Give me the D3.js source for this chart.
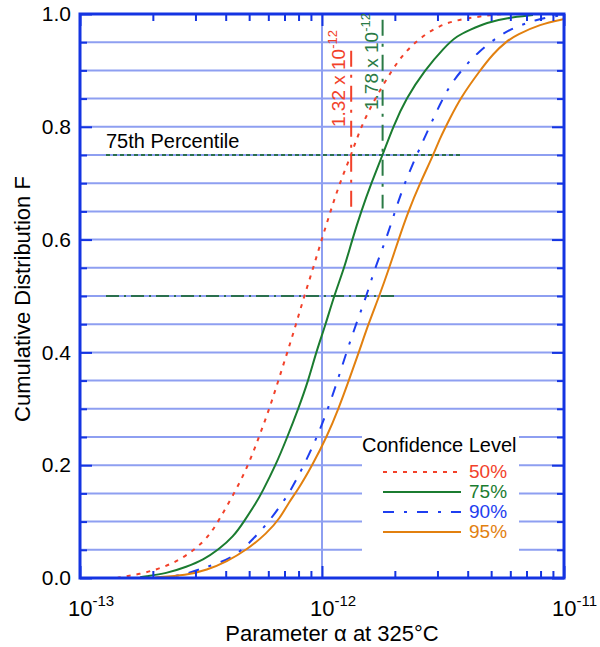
<!DOCTYPE html>
<html>
<head>
<meta charset="utf-8">
<script src="https://cdn.jsdelivr.net/npm/d3@7"></script>
<style>
  html, body { margin: 0; padding: 0; background: #fff; }
  svg { display: block; font-family: "Liberation Sans", Arial, Helvetica, sans-serif; }
</style>
</head>
<body>
<svg id="chart" width="600" height="647"></svg>
<script>
// Cumulative distribution of the parameter alpha at 325 °C for four confidence levels.
// Each entry: [alpha, F]
const conf50 = [
  [1.42e-13, 0.0], [1.46e-13, 0.001], [1.77e-13, 0.007], [2.11e-13, 0.016], [2.51e-13, 0.029],
  [2.90e-13, 0.047], [3.23e-13, 0.064], [3.50e-13, 0.082], [3.72e-13, 0.10], [4.34e-13, 0.15],
  [4.96e-13, 0.20], [5.49e-13, 0.25], [6.06e-13, 0.30], [6.60e-13, 0.35], [7.19e-13, 0.40],
  [7.81e-13, 0.45], [8.45e-13, 0.50], [9.20e-13, 0.55], [9.97e-13, 0.60], [1.084e-12, 0.65],
  [1.183e-12, 0.70], [1.32e-12, 0.75], [1.447e-12, 0.80], [1.656e-12, 0.85], [1.941e-12, 0.90],
  [2.203e-12, 0.933], [2.582e-12, 0.96], [3.073e-12, 0.98], [3.602e-12, 0.989], [4.220e-12, 0.994],
  [4.945e-12, 0.998], [5.705e-12, 1.0]
];
const conf75 = [
  [1.77e-13, 0.001], [1.83e-13, 0.0024], [2.28e-13, 0.008], [2.76e-13, 0.02], [3.23e-13, 0.032],
  [3.73e-13, 0.05], [4.30e-13, 0.073], [4.76e-13, 0.10], [5.37e-13, 0.135], [5.62e-13, 0.15],
  [6.44e-13, 0.20], [7.19e-13, 0.25], [7.98e-13, 0.30], [8.78e-13, 0.35], [9.45e-13, 0.40],
  [1.036e-12, 0.45], [1.121e-12, 0.50], [1.237e-12, 0.55], [1.333e-12, 0.60], [1.452e-12, 0.65],
  [1.598e-12, 0.70], [1.78e-12, 0.75], [1.966e-12, 0.80], [2.224e-12, 0.85], [2.652e-12, 0.90],
  [3.223e-12, 0.942], [3.602e-12, 0.961], [4.089e-12, 0.972], [4.792e-12, 0.985], [5.797e-12, 0.993],
  [7.445e-12, 0.998]
];
const conf90 = [
  [2.04e-13, 0.0], [2.14e-13, 0.001], [2.67e-13, 0.005], [3.13e-13, 0.016], [3.73e-13, 0.026],
  [4.44e-13, 0.041], [5.20e-13, 0.069], [6.04e-13, 0.10], [6.82e-13, 0.132], [7.31e-13, 0.15],
  [8.43e-13, 0.20], [9.54e-13, 0.25], [1.059e-12, 0.30], [1.159e-12, 0.35], [1.262e-12, 0.40],
  [1.382e-12, 0.45], [1.527e-12, 0.50], [1.656e-12, 0.55], [1.839e-12, 0.60], [2.003e-12, 0.65],
  [2.193e-12, 0.70], [2.462e-12, 0.75], [2.781e-12, 0.80], [3.073e-12, 0.84], [3.380e-12, 0.874],
  [3.836e-12, 0.904], [4.425e-12, 0.933], [5.439e-12, 0.963], [6.377e-12, 0.978], [7.713e-12, 0.99],
  [9.006e-12, 0.996], [1.0e-11, 0.998]
];
const conf95 = [
  [2.04e-13, 0.001], [2.76e-13, 0.005], [3.34e-13, 0.014], [4.04e-13, 0.029], [4.89e-13, 0.05],
  [5.91e-13, 0.079], [6.71e-13, 0.106], [7.31e-13, 0.135], [7.92e-13, 0.155], [9.12e-13, 0.20],
  [1.046e-12, 0.25], [1.17e-12, 0.30], [1.29e-12, 0.35], [1.42e-12, 0.40], [1.553e-12, 0.45],
  [1.725e-12, 0.50], [1.897e-12, 0.55], [2.071e-12, 0.60], [2.273e-12, 0.65], [2.541e-12, 0.70],
  [2.884e-12, 0.75], [3.073e-12, 0.78], [3.380e-12, 0.815], [3.717e-12, 0.85], [4.498e-12, 0.90],
  [5.105e-12, 0.93], [5.797e-12, 0.952], [6.377e-12, 0.963], [7.958e-12, 0.982], [1.0e-11, 0.991]
];

const seriesNames  = ["50%", "75%", "90%", "95%"];
const seriesColors = ["#f2412a", "#1b7c30", "#1e3ef0", "#e2800f"];
const seriesDash   = ["4,6", null, "11,10,3,10", null];

// 75th-percentile markers: alpha values for the 50% and 75% curves
const p75Values = [1.32e-12, 1.78e-12];
const p75Labels = ["1.32 x 10", "1.78 x 10"];
const p75Exp = "-12";

const yTickLabels = ["0.0", "0.2", "0.4", "0.6", "0.8", "1.0"];
const yTickValues = [0, 0.2, 0.4, 0.6, 0.8, 1.0];
const xDecades = [-13, -12, -11];

const svg = d3.select("#chart");
const L = 80, R = 564, T = 14, B = 578;
const x = d3.scaleLog().domain([1e-13, 1e-11]).range([L, R]);
const y = d3.scaleLinear().domain([0, 1]).range([B, T]);

const axisBlue = "#1434e2";
const gridBlue = "#8e9ff1";
const refGreen = "#2a6f4e";

svg.append("defs").append("clipPath").attr("id", "plot")
  .append("rect").attr("x", L).attr("y", T).attr("width", R - L).attr("height", B - T);

// horizontal grid every 0.05
const gridY = d3.range(1, 20).map(i => i * 0.05);
svg.append("g").selectAll("line").data(gridY).join("line")
  .attr("x1", L).attr("x2", R)
  .attr("y1", d => y(d)).attr("y2", d => y(d))
  .attr("stroke", gridBlue).attr("stroke-width", 2);
// vertical grid at 1e-12
svg.append("line")
  .attr("x1", x(1e-12)).attr("x2", x(1e-12)).attr("y1", T).attr("y2", B)
  .attr("stroke", gridBlue).attr("stroke-width", 2);

// legend background interrupts the grid
svg.append("rect").attr("x", 362).attr("y", 431).attr("width", 157).attr("height", 124).attr("fill", "#fff");

// reference lines: 75th percentile (dashed) and median (dash-dot)
svg.append("line")
  .attr("x1", 106).attr("x2", 460).attr("y1", y(0.75)).attr("y2", y(0.75))
  .attr("stroke", refGreen).attr("stroke-width", 2).attr("stroke-dasharray", "4,3");
svg.append("line")
  .attr("x1", 106).attr("x2", 395).attr("y1", y(0.5)).attr("y2", y(0.5))
  .attr("stroke", refGreen).attr("stroke-width", 2).attr("stroke-dasharray", "13,5,2,5");

// vertical markers at the 75th percentile values
const vColors = [seriesColors[0], "#2a7a45"];
const vTop = [0.935, 0.99];
p75Values.forEach((v, i) => {
  svg.append("line")
    .attr("x1", x(v)).attr("x2", x(v)).attr("y1", y(vTop[i])).attr("y2", y(0.655))
    .attr("stroke", vColors[i]).attr("stroke-width", 2).attr("stroke-dasharray", "16,8,3,8");
});

// curves (smoothed through the read points)
const line = d3.line().x(d => x(d[0])).y(d => y(d[1])).curve(d3.curveBasis);
const allSeries = [conf50, conf75, conf90, conf95];
const gCurves = svg.append("g").attr("clip-path", "url(#plot)");
allSeries.forEach((s, i) => {
  gCurves.append("path").datum(s)
    .attr("d", line)
    .attr("fill", "none")
    .attr("stroke", seriesColors[i])
    .attr("stroke-width", 2)
    .attr("stroke-dasharray", seriesDash[i]);
});

// axes: minor ticks every 0.05 / every integer multiple, major at 0.2 / decades
const minorY = gridY.filter(v => Math.abs(v * 5 - Math.round(v * 5)) > 1e-6);
const majorY = yTickValues;
const minorX = [];
[-13, -12].forEach(e => { for (let k = 2; k <= 9; k++) minorX.push(k * Math.pow(10, e)); });
const majorX = xDecades.map(e => Math.pow(10, e));

function styleAxis(g) {
  g.select(".domain").remove();
  g.selectAll(".tick line").attr("stroke", axisBlue).attr("stroke-width", 2);
}
svg.append("g").attr("transform", `translate(${L},0)`)
  .call(d3.axisLeft(y).tickValues(minorY).tickSize(-7).tickFormat("")).call(styleAxis);
svg.append("g").attr("transform", `translate(${L},0)`)
  .call(d3.axisLeft(y).tickValues(majorY).tickSize(-12).tickPadding(9)
    .tickFormat((d, i) => yTickLabels[i])).call(styleAxis)
  .call(g => g.selectAll("text").attr("font-size", 21).attr("fill", "#000")
    .attr("font-family", "Liberation Sans, Arial, sans-serif"));
svg.append("g").attr("transform", `translate(${R},0)`)
  .call(d3.axisRight(y).tickValues(minorY).tickSize(-7).tickFormat("")).call(styleAxis);
svg.append("g").attr("transform", `translate(${R},0)`)
  .call(d3.axisRight(y).tickValues(majorY).tickSize(-12).tickFormat("")).call(styleAxis);
svg.append("g").attr("transform", `translate(0,${B})`)
  .call(d3.axisBottom(x).tickValues(minorX).tickSize(-7).tickFormat("")).call(styleAxis);
svg.append("g").attr("transform", `translate(0,${B})`)
  .call(d3.axisBottom(x).tickValues(majorX).tickSize(-12).tickFormat("")).call(styleAxis);
svg.append("g").attr("transform", `translate(0,${T})`)
  .call(d3.axisTop(x).tickValues(minorX).tickSize(-7).tickFormat("")).call(styleAxis);
svg.append("g").attr("transform", `translate(0,${T})`)
  .call(d3.axisTop(x).tickValues(majorX).tickSize(-12).tickFormat("")).call(styleAxis);

// frame
svg.append("rect").attr("x", L).attr("y", T).attr("width", R - L).attr("height", B - T)
  .attr("fill", "none").attr("stroke", axisBlue).attr("stroke-width", 3);

// x tick labels: 10 with superscript exponent
xDecades.forEach(e => {
  const t = svg.append("text").attr("x", x(Math.pow(10, e)) - 12).attr("y", 616)
    .attr("font-size", 22).attr("fill", "#000");
  t.append("tspan").text("10");
  t.append("tspan").attr("dy", -10).attr("font-size", 15).text("-" + Math.abs(e));
});

// axis titles
svg.append("text").attr("x", 332).attr("y", 641).attr("text-anchor", "middle")
  .attr("font-size", 22).attr("fill", "#000").text("Parameter α at 325°C");
svg.append("text").attr("transform", "translate(30,299) rotate(-90)").attr("text-anchor", "middle")
  .attr("font-size", 22).attr("fill", "#000").text("Cumulative Distribution F");

// percentile annotations
svg.append("text").attr("x", 106).attr("y", 148).attr("font-size", 20).attr("fill", "#000")
  .text("75th Percentile");
const labelBase = [[345, 127], [378, 110]];
p75Labels.forEach((lab, i) => {
  const t = svg.append("text")
    .attr("transform", `translate(${labelBase[i][0]},${labelBase[i][1]}) rotate(-90)`)
    .attr("font-size", 19).attr("fill", vColors[i]);
  t.append("tspan").text(lab);
  t.append("tspan").attr("dy", -8).attr("font-size", 13).text(p75Exp);
});

// legend
svg.append("text").attr("x", 362).attr("y", 452).attr("font-size", 20).attr("fill", "#000")
  .text("Confidence Level");
seriesNames.forEach((n, i) => {
  const ly = 472 + i * 20;
  svg.append("line").attr("x1", 383).attr("x2", 461).attr("y1", ly).attr("y2", ly)
    .attr("stroke", seriesColors[i]).attr("stroke-width", 2)
    .attr("stroke-dasharray", seriesDash[i]);
  svg.append("text").attr("x", 469).attr("y", ly + 6).attr("font-size", 19)
    .attr("fill", seriesColors[i]).text(n);
});
</script>
</body>
</html>
